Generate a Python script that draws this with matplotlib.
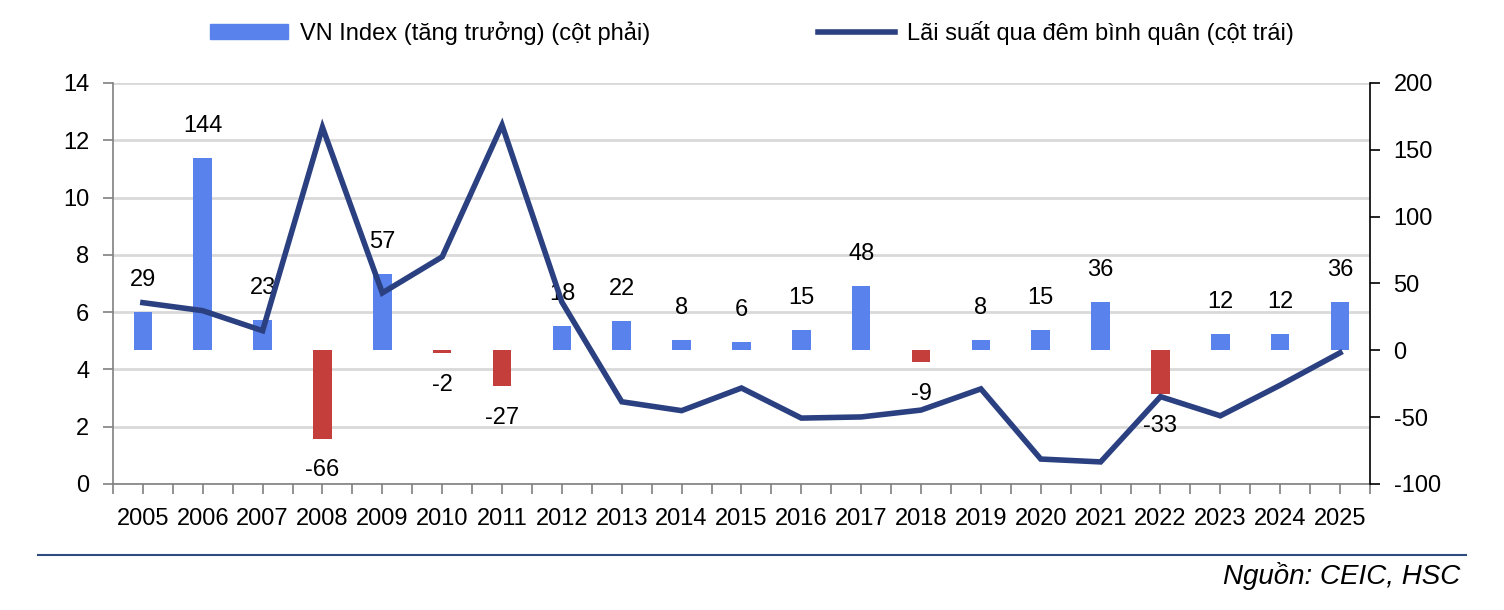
import matplotlib
matplotlib.use("Agg")
import matplotlib.pyplot as plt
import numpy as np
from matplotlib.patches import Patch
from matplotlib.lines import Line2D

plt.rcParams['font.family'] = ['Liberation Sans', 'DejaVu Sans']
plt.rcParams['axes.unicode_minus'] = False

years = [str(y) for y in range(2005, 2026)]
vn_growth = [29, 144, 23, -66, 57, -2, -27, 18, 22, 8, 6, 15, 48, -9, 8, 15, 36, -33, 12, 12, 36]
overnight_rate = [6.33, 6.05, 5.35, 12.45, 6.67, 7.93, 12.53, 6.35, 2.87, 2.56, 3.35, 2.3,
                  2.34, 2.58, 3.32, 0.87, 0.77, 3.05, 2.38, 3.45, 4.58]

bar_label = 'VN Index (tăng trưởng) (cột phải)'
line_label = 'Lãi suất qua đêm bình quân (cột trái)'
source = 'Nguồn: CEIC, HSC'

blue = '#5A82EC'
red = '#C43E3B'
navy = '#2B4080'
fs = 17

fig = plt.figure(figsize=(15.04, 6.10), dpi=100)
ax = fig.add_axes([0.0751, 0.2066, 0.8358, 0.6574])
x = np.arange(len(years))

# left axis: grid + ticks
ax.set_xlim(-0.5, len(years) - 0.5)
ax.set_ylim(0, 14)
ax.set_yticks(range(0, 15, 2))
ax.grid(axis='y', color='#D9D9D9', lw=2)
ax.set_axisbelow(True)
ax.set_xticks(x)
ax.set_xticklabels(years)
ax.set_xticks(np.arange(-0.5, len(years), 1), minor=True)
for s in ['top', 'right']:
    ax.spines[s].set_visible(False)
for s in ['left', 'bottom']:
    ax.spines[s].set_color('#808080')
    ax.spines[s].set_linewidth(1.2)
ax.tick_params(axis='y', length=7, width=1.2, color='#808080', pad=10, labelsize=fs)
ax.tick_params(axis='x', which='both', length=7, width=1.2, color='#808080', pad=10, labelsize=fs)

# right axis: bars
ax2 = ax.twinx()
ax2.set_ylim(-100, 200)
ax2.set_yticks(range(-100, 201, 50))
for s in ['top', 'left', 'bottom']:
    ax2.spines[s].set_visible(False)
ax2.spines['right'].set_color('black')
ax2.spines['right'].set_linewidth(1.2)
ax2.tick_params(axis='y', length=7, width=1.2, pad=10, labelsize=fs)
colors = [blue if v >= 0 else red for v in vn_growth]
ax2.bar(x, vn_growth, width=0.31, color=colors)
for xi, v in zip(x, vn_growth):
    off = 23 if v >= 0 else -23
    ax2.annotate(str(v), (xi, v), xytext=(0, off), textcoords='offset points',
                 ha='center', va='center', fontsize=fs)

# line on top, left scale
ax3 = ax.twinx()
ax3.set_ylim(ax.get_ylim())
ax3.axis('off')
ax3.plot(x, overnight_rate, color=navy, lw=4, solid_joinstyle='miter')

handles = [Patch(color=blue), Line2D([0], [0], color=navy, lw=4)]
fig.legend(handles, [bar_label, line_label], loc='center', bbox_to_anchor=(0.5, 0.946),
           ncol=2, frameon=False, fontsize=fs, handlelength=3.3, handleheight=0.6,
           handletextpad=0.5, columnspacing=7.1)

fig.add_artist(Line2D([38 / 1504, 1466 / 1504], [1 - 555 / 610] * 2, color='#2F4A7E', lw=1.5))
fig.text(1460 / 1504, 1 - 576 / 610, source, ha='right', va='center', style='italic', fontsize=20)

fig.savefig('out.png', dpi=100)
